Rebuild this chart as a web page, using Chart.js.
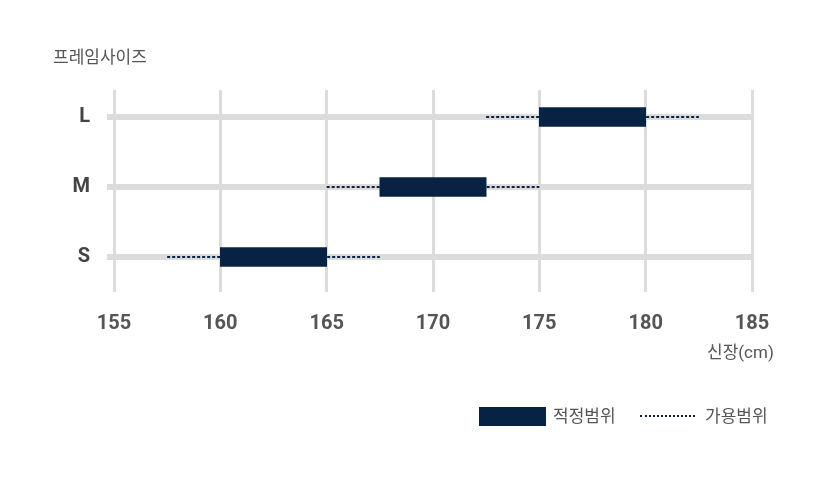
<!DOCTYPE html>
<html lang="ko">
<head>
<meta charset="utf-8">
<script src="https://cdn.jsdelivr.net/npm/chart.js@4"></script>
<style>
  body { margin: 0; background: #fff; font-family: Roboto, "Noto Sans CJK KR", sans-serif; }
  #wrap { position: relative; width: 825px; height: 483px; }
  .txt { position: absolute; color: #555; font-size: 17px; line-height: 20px; white-space: nowrap; }
  .swatch { position: absolute; left: 479px; top: 407px; width: 67px; height: 19px; background: #072242; }
  .dots { position: absolute; left: 640px; top: 415px; width: 55px; height: 0; border-top: 2px dotted #072242; }
</style>
</head>
<body>
<div id="wrap">
  <canvas id="sizeChart" width="825" height="483"></canvas>
  <div class="txt" style="left: 53px; top: 47px;">프레임사이즈</div>
  <div class="txt" style="left: 707px; top: 342px;">신장(cm)</div>
  <div class="swatch"></div>
  <div class="txt" style="left: 553px; top: 406px;">적정범위</div>
  <div class="dots"></div>
  <div class="txt" style="left: 705px; top: 406px;">가용범위</div>
</div>
<script>
const categories = ['L', 'M', 'S'];
const fitRange = [[175, 180], [167.5, 172.5], [160, 165]];
const usableRange = [[172.5, 182.5], [165, 175], [157.5, 167.5]];
const xTicks = [155, 160, 165, 170, 175, 180, 185];

const navy = '#072242';
const gridGray = '#dcdcdc';

// dotted "usable" ranges, one line per size, drawn behind the bars
const lineSets = usableRange.map((r, i) => ({
    type: 'line',
    data: [{ x: r[0], y: i }, { x: r[1], y: i }],
    borderColor: navy,
    borderWidth: 2,
    borderDash: [3, 2],
    pointRadius: 0,
    order: 2
}));

new Chart(document.getElementById('sizeChart'), {
    type: 'bar',
    data: {
        datasets: [{
            data: fitRange.map((r, i) => ({ x: r, y: i })),
            backgroundColor: navy,
            barThickness: 19,
            order: 1
        }, ...lineSets]
    },
    options: {
        indexAxis: 'y',
        responsive: false,
        animation: false,
        layout: { padding: { top: 90, right: 73, left: 0, bottom: 0 } },
        plugins: { legend: { display: false }, tooltip: { enabled: false } },
        scales: {
            x: {
                type: 'linear',
                min: 155,
                max: 185,
                afterBuildTicks: (axis) => { axis.ticks = xTicks.map(v => ({ value: v })); },
                afterFit: (axis) => { axis.height = 191; },
                grid: { color: gridGray, lineWidth: 3, drawTicks: false },
                border: { display: false },
                ticks: {
                    color: '#555',
                    padding: 20,
                    font: { family: 'Roboto', size: 20, weight: 'bold' }
                }
            },
            y: {
                type: 'linear',
                reverse: true,
                offset: false,
                min: -0.386,
                max: 2.5,
                afterBuildTicks: (axis) => { axis.ticks = categories.map((c, i) => ({ value: i })); },
                afterFit: (axis) => { axis.width = 114; },
                grid: { color: gridGray, lineWidth: 6, tickLength: 7, offset: false },
                border: { display: false },
                ticks: {
                    color: '#444',
                    padding: 17,
                    font: { family: 'Roboto', size: 20, weight: 'bold' },
                    callback: (v) => categories[v]
                }
            }
        }
    }
});
</script>
</body>
</html>
